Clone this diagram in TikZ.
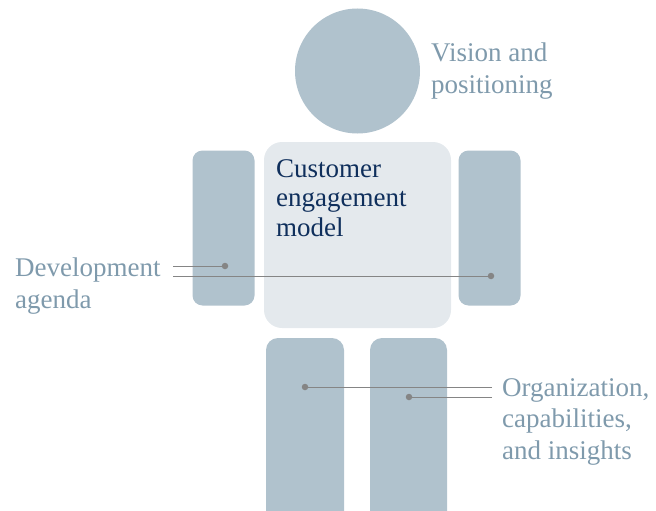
\documentclass[tikz,border=0pt]{standalone}
\usepackage{fontspec}
\setmainfont{Liberation Serif}
\definecolor{limb}{HTML}{B0C2CD}
\definecolor{torso}{HTML}{E4E9ED}
\definecolor{lbl}{HTML}{7F9AAC}
\definecolor{ttl}{HTML}{0F2F5C}
\definecolor{lead}{HTML}{858585}
\begin{document}
\begin{tikzpicture}[x=1pt,y=-1pt,
 limbbox/.style={rectangle,fill=limb,draw=none,inner sep=0,rounded corners=10pt},
 lbltext/.style={anchor=base west,align=left,inner sep=0,text=lbl,font=\fontsize{27}{31.5}\selectfont},
 leadline/.style={draw=lead,line width=1pt},
 dotmark/.style={circle,fill=lead,inner sep=0,minimum size=6.5pt}]
\useasboundingbox (0,0) rectangle (656,511);
\clip (0,0) rectangle (656,511);
% body parts
\node[circle,fill=limb,minimum size=125pt,inner sep=0] (head) at (357.5,71) {};
\node[rectangle,fill=torso,inner sep=0,rounded corners=18pt,minimum width=187pt,minimum height=186pt] (torso) at (357.5,235) {};
\node[limbbox,minimum width=62pt,minimum height=155pt] (larm) at (223.5,228) {};
\node[limbbox,minimum width=62pt,minimum height=155pt] (rarm) at (489.5,228) {};
\node[limbbox,rounded corners=12pt,minimum width=78pt,minimum height=200pt] (lleg) at (305,438) {};
\node[limbbox,rounded corners=12pt,minimum width=77pt,minimum height=200pt] (rleg) at (408.5,438) {};
% texts (anchor = baseline of the last line)
\node[lbltext] (vision) at (431,93) {Vision and\\positioning};
\node[lbltext] (devel) at (15,308) {Development\\agenda};
\node[lbltext] (org) at (502,459) {Organization,\\capabilities,\\and insights};
\node[lbltext,text=ttl,font=\fontsize{27}{29.5}\selectfont] (cem) at (276,236) {Customer\\engagement\\model};
% dots and leader ends
\node[dotmark] (d1) at (225,266) {};
\node[dotmark] (d2) at (491,276) {};
\node[dotmark] (d3) at (305,387) {};
\node[dotmark] (d4) at (409,397) {};
\coordinate (e1) at (173,266);
\coordinate (e2) at (173,276);
\coordinate (e3) at (492,387);
\coordinate (e4) at (492,397);
\draw[leadline] (e1) -- (d1.center);
\draw[leadline] (e2) -- (d2.center);
\draw[leadline] (e3) -- (d3.center);
\draw[leadline] (e4) -- (d4.center);
\end{tikzpicture}
\end{document}
